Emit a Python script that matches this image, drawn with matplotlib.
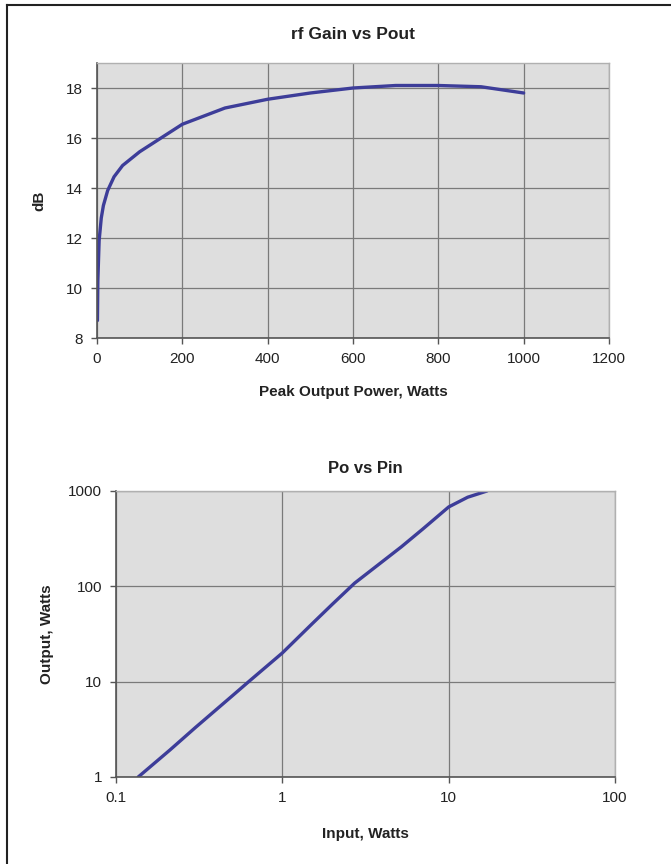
import numpy as np
import matplotlib
matplotlib.use('Agg')
import matplotlib.pyplot as plt
from matplotlib.lines import Line2D
from matplotlib.ticker import FixedLocator, FixedFormatter

plt.rcParams['font.family'] = ['Liberation Sans', 'DejaVu Sans']

# rf gain vs output power
pout = [1, 2, 5, 10, 15, 25, 40, 60, 100, 150, 200, 300, 400, 500, 600, 700, 800, 900, 1000]
gain = [8.7, 10.3, 11.9, 12.8, 13.3, 13.9, 14.45, 14.9, 15.45, 16.0, 16.55, 17.2, 17.55, 17.8, 18.0, 18.1, 18.1, 18.05, 17.8]

# output vs input power
pin = [0.136, 0.211, 0.3, 0.5, 0.64, 1.0, 1.5, 2.0, 2.72, 3.5, 5.2, 7.0, 10.0, 13.0, 17.0]
po = [1.0, 1.92, 3.3, 7.1, 10.3, 20, 40, 65, 108, 152, 260, 400, 680, 860, 1000]

line_col = '#3d3d99'
bg = '#dedede'
grid_col = '#7a7a7a'
txt = '#222222'

fig = plt.figure(figsize=(6.71, 8.64), dpi=100)
fig.patch.set_facecolor('white')

# frame lines (left and top only)
fig.add_artist(Line2D([7/671, 7/671], [0, 1 - 5/864], transform=fig.transFigure, color='#222222', lw=1.5))
fig.add_artist(Line2D([7/671, 1], [1 - 5/864, 1 - 5/864], transform=fig.transFigure, color='#222222', lw=1.5))


def style(ax):
    ax.set_facecolor(bg)
    ax.grid(True, color=grid_col, lw=0.9)
    ax.set_axisbelow(True)
    for s in ['top', 'right']:
        ax.spines[s].set_color('#b0b0b0')
        ax.spines[s].set_linewidth(1.0)
    for s in ['left', 'bottom']:
        ax.spines[s].set_color('#555555')
        ax.spines[s].set_linewidth(1.2)
    ax.tick_params(direction='out', length=4, width=1, colors='#555555', labelcolor=txt, labelsize=11, pad=6)


# top chart
ax1 = fig.add_axes([97/671, 1 - 338/864, 512/671, 275/864])
style(ax1)
ax1.plot(pout, gain, color=line_col, lw=2.4, solid_capstyle='round')
ax1.set_xlim(0, 1200)
ax1.set_ylim(8, 19)
ax1.set_xticks([0, 200, 400, 600, 800, 1000, 1200])
ax1.set_yticks([8, 10, 12, 14, 16, 18])
ax1.set_title('rf Gain vs Pout', fontsize=12.5, fontweight='bold', color=txt, pad=17)
ax1.set_xlabel('Peak Output Power, Watts', fontsize=11, fontweight='bold', color=txt, labelpad=14)
ax1.set_ylabel('dB', fontsize=11, fontweight='bold', color=txt, labelpad=14)

# bottom chart
ax2 = fig.add_axes([116/671, 1 - 777/864, 499/671, 286/864])
style(ax2)
ax2.plot(pin, po, color=line_col, lw=2.4, solid_capstyle='round')
ax2.set_xscale('log')
ax2.set_yscale('log')
ax2.set_xlim(0.1, 100)
ax2.set_ylim(1, 1000)
ax2.xaxis.set_major_locator(FixedLocator([0.1, 1, 10, 100]))
ax2.xaxis.set_major_formatter(FixedFormatter(['0.1', '1', '10', '100']))
ax2.yaxis.set_major_locator(FixedLocator([1, 10, 100, 1000]))
ax2.yaxis.set_major_formatter(FixedFormatter(['1', '10', '100', '1000']))
ax2.xaxis.set_minor_locator(FixedLocator([]))
ax2.yaxis.set_minor_locator(FixedLocator([]))
ax2.grid(True, which='major', color=grid_col, lw=0.9)
ax2.set_title('Po vs Pin', fontsize=12, fontweight='bold', color=txt, pad=13)
ax2.set_xlabel('Input, Watts', fontsize=11, fontweight='bold', color=txt, labelpad=16)
ax2.set_ylabel('Output, Watts', fontsize=11, fontweight='bold', color=txt, labelpad=10)

plt.savefig('out.png', dpi=100)
